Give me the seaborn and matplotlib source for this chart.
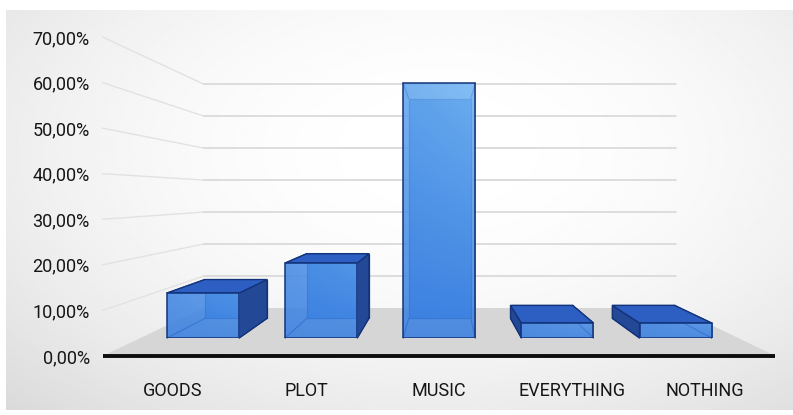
import numpy as np
import matplotlib
matplotlib.use("Agg")
import matplotlib.pyplot as plt
from matplotlib.patches import Polygon
import pandas as pd
import seaborn as sns

# ------------------------------------------------------------------
# Data
# ------------------------------------------------------------------
categories = ["GOODS", "PLOT", "MUSIC", "EVERYTHING", "NOTHING"]
shares = [11.11, 18.52, 62.96, 3.70, 3.70]
y_ticks = [0, 10, 20, 30, 40, 50, 60, 70]
y_tick_labels = ["0,00%", "10,00%", "20,00%", "30,00%", "40,00%", "50,00%", "60,00%", "70,00%"]

df = pd.DataFrame({"category": categories, "share": shares})

# ------------------------------------------------------------------
# Style / layout constants
# ------------------------------------------------------------------
sns.set_theme(style="white")
plt.rcParams["font.family"] = ["Roboto", "DejaVu Sans"]

W, H = 793, 415
AX_L, AX_R, AX_B, AX_T = 106.5, 771.5, 59, 378   # front plane (pixels)
VX, VY = 442, 220                                # vanishing point (pixels)
T_WALL, T_FRONT, T_BACK = 0.702, 0.888, 0.766    # depth scales
BAR_W = 0.61
FLOOR_X = (-0.53, 4.53)

C_TOP = "#2d5fc3"
C_SIDE = "#234896"
C_EDGE = "#13337a"
C_BACK = "#3a7edc"


def plane_rect(t):
    left = VX + t * (AX_L - VX)
    bottom = VY + t * (AX_B - VY)
    return [left / W, bottom / H, t * (AX_R - AX_L) / W, t * (AX_T - AX_B) / H]


fig = plt.figure(figsize=(W / 100, H / 100), dpi=100)
fig.patch.set_facecolor("white")

# soft grey backdrop
bg = fig.add_axes([6 / W, 5 / H, (W - 6) / W, 400 / H], zorder=0)
yy, xx = np.mgrid[0:1:200j, 0:1:400j]
dist = np.sqrt(((xx - 0.55) / 0.75) ** 2 + ((yy - 0.65) / 0.85) ** 2)
shade = 1 - 0.13 * np.clip(dist, 0, 1.3) ** 2.0
bg.imshow(shade, cmap="gray", vmin=0, vmax=1, aspect="auto",
          extent=[0, 1, 0, 1], origin="lower")
bg.axis("off")

# front plane axes: tick labels + scene geometry
ax = fig.add_axes(plane_rect(1.0), zorder=1)
ax.set_xlim(-0.5, 4.5)
ax.set_ylim(0, 70)
ax.patch.set_visible(False)
for s in ax.spines.values():
    s.set_visible(False)
ax.set_yticks(y_ticks)
ax.set_yticklabels(y_tick_labels)
ax.set_xticks(range(len(categories)))
ax.set_xticklabels(categories)
ax.tick_params(axis="y", length=0, pad=12, labelsize=13, labelcolor="#161616")
ax.tick_params(axis="x", length=0, pad=19, labelsize=13, labelcolor="#161616")
ax.grid(False)

vx, vy = ax.transData.inverted().transform((VX, VY))


def proj(x, y, t):
    return (vx + t * (x - vx), vy + t * (y - vy))


# side wall + back wall gridlines
for yv in y_ticks[1:]:
    p0 = proj(FLOOR_X[0], yv, 1.0)
    p1 = proj(FLOOR_X[0], yv, T_WALL)
    p2 = proj(FLOOR_X[1], yv, T_WALL)
    ax.plot([p0[0], p1[0]], [p0[1], p1[1]], color="#e2e2e2", lw=1.0,
            clip_on=False, zorder=1)
    ax.plot([p1[0], p2[0]], [p1[1], p2[1]], color="#dadada", lw=1.3,
            clip_on=False, zorder=1)

# floor
floor = [proj(FLOOR_X[0], 0, 1.0), proj(FLOOR_X[1], 0, 1.0),
         proj(FLOOR_X[1], 0, T_WALL), proj(FLOOR_X[0], 0, T_WALL)]
ax.add_patch(Polygon(floor, closed=True, facecolor="#d6d6d6", edgecolor="none",
                     clip_on=False, zorder=2))
f0, f1 = proj(FLOOR_X[0], 0, 1.0), proj(FLOOR_X[1], 0, 1.0)
ax.plot([f0[0], f1[0]], [f0[1], f1[1]], color="#0d0d0d", lw=2.8,
        solid_capstyle="butt", clip_on=False, zorder=3)

# ------------------------------------------------------------------
# Bars: front faces drawn by seaborn on a plane scaled toward the
# vanishing point, depth faces derived from those patches
# ------------------------------------------------------------------
ax_f = fig.add_axes(plane_rect(T_FRONT), zorder=2)
sns.barplot(data=df, x="category", y="share", ax=ax_f, width=BAR_W,
            color="#3c82e1", edgecolor=C_EDGE, linewidth=1.1, saturation=1)
ax_f.set_xlim(-0.5, 4.5)
ax_f.set_ylim(0, 70)
ax_f.axis("off")

ratio = T_BACK / T_FRONT
grad_y = np.linspace(0, 1, 200)[:, None] * np.ones((1, 60))
grad_x = np.ones((200, 1)) * np.linspace(0, 1, 60)[None, :]
c0 = np.array([0.23, 0.50, 0.88])
c1 = np.array([0.47, 0.73, 0.96])

for patch in ax_f.patches:
    x0, y0 = patch.get_x(), patch.get_y()
    w, h = patch.get_width(), patch.get_height()
    # front corners in main-axes coordinates
    pts = [(x0, y0), (x0 + w, y0), (x0 + w, y0 + h), (x0, y0 + h)]
    disp = ax_f.transData.transform(pts)
    FLb, FRb, FRt, FLt = ax.transData.inverted().transform(disp)
    back = [(vx + ratio * (p[0] - vx), vy + ratio * (p[1] - vy))
            for p in (FLb, FRb, FRt, FLt)]
    BLb, BRb, BRt, BLt = back

    ax.add_patch(Polygon(back, closed=True, facecolor=C_BACK, edgecolor=C_EDGE,
                         lw=0.9, clip_on=False, zorder=4))
    for a, b in ((FLb, BLb), (FRb, BRb), (FLt, BLt), (FRt, BRt)):
        ax.plot([a[0], b[0]], [a[1], b[1]], color=C_EDGE, lw=0.9,
                clip_on=False, zorder=5)
    if FRb[0] < vx:
        ax.add_patch(Polygon([FRb, FRt, BRt, BRb], closed=True, facecolor=C_SIDE,
                             edgecolor=C_EDGE, lw=1.0, clip_on=False, zorder=6))
    if FLb[0] > vx:
        ax.add_patch(Polygon([FLb, FLt, BLt, BLb], closed=True, facecolor=C_SIDE,
                             edgecolor=C_EDGE, lw=1.0, clip_on=False, zorder=6))
    if FLt[1] < vy:
        ax.add_patch(Polygon([FLt, FRt, BRt, BLt], closed=True, facecolor=C_TOP,
                             edgecolor=C_EDGE, lw=1.0, clip_on=False, zorder=7))

    # glassy gradient on the front face
    f = np.clip(0.75 * grad_y * (y0 + h) / 70 + 0.25 * grad_x * grad_y, 0, 1)
    rgb = c0[None, None, :] + f[:, :, None] * (c1 - c0)[None, None, :]
    im = ax_f.imshow(rgb, extent=[x0, x0 + w, y0, y0 + h], origin="lower",
                     aspect="auto", alpha=0.88, zorder=1)
    im.set_clip_path(patch)
    patch.set_facecolor("none")
    patch.set_zorder(2)

ax_f.set_xlim(-0.5, 4.5)
ax_f.set_ylim(0, 70)

fig.savefig("out.png", dpi=100, facecolor="white")
